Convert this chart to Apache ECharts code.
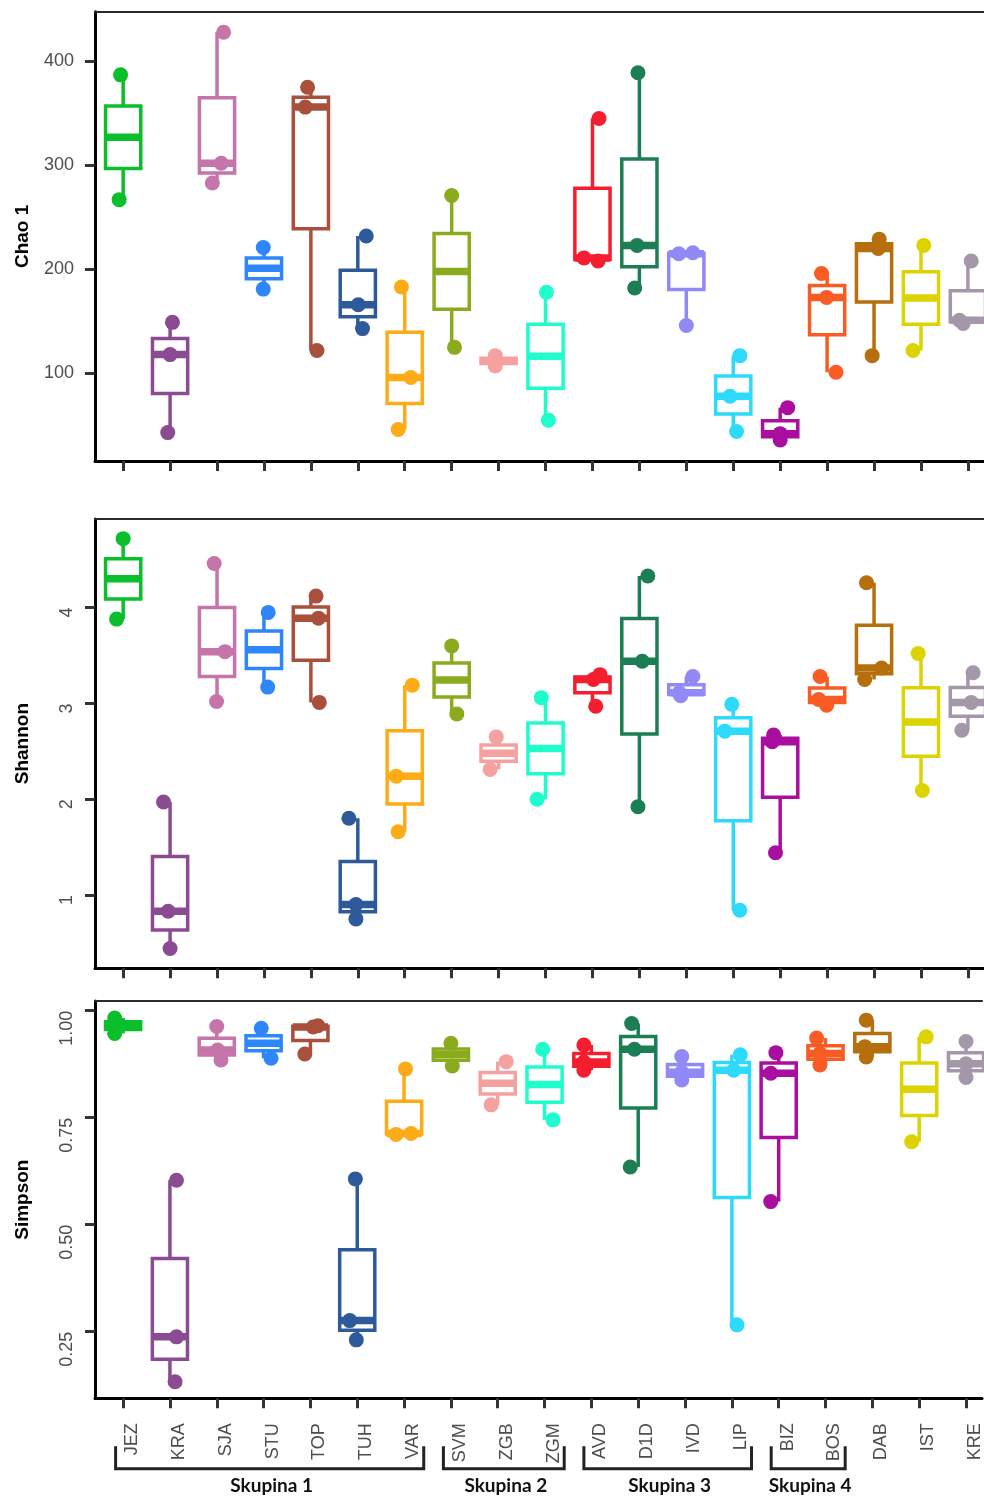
<!DOCTYPE html>
<html>
<head>
<meta charset="utf-8">
<script src="https://cdn.jsdelivr.net/npm/echarts@6/dist/echarts.min.js"></script>
<style>
html,body{margin:0;padding:0;background:#ffffff;}
#chart{width:984px;height:1498px;}
</style>
</head>
<body>
<div id="chart"></div>
<script>
// ---------------- data ----------------
const categories = ['JEZ','KRA','SJA','STU','TOP','TUH','VAR','SVM','ZGB','ZGM','AVD','D1D','IVD','LIP','BIZ','BOS','DAB','IST','KRE'];
const siteColors = ['#0BBE2B','#8A4B92','#C575A9','#2D86FA','#A8503B','#2E5A9C','#FDAB16','#8AAB1D','#F5A19F','#1EFDCB',
                    '#F41E2E','#1C7E55','#9189F6','#2EDAFC','#AA0E9E','#F95B25','#B56F0C','#DCD300','#A397A9'];

// replicate values per site
const chaoSamples = [
  [387,267],[149,118,43],[428,302,283],[221,181],[375,356,122],[232,166,143],[183,96,46],
  [271,125],[117,107],[178,55],
  [345,211,208],[389,223,182],[216,215,146],[117,78,44],
  [67,42,36],[196,173,101],
  [229,220,117],[223,122],[208,151,148]
];
const chaoJitter = [
  [-0.055,-0.085],[0.05,0,-0.05],[0.14,0.09,-0.1],[-0.015,-0.015],[-0.07,-0.12,0.13],[0.18,0.01,0.1],[-0.07,0.13,-0.14],
  [0,0.06],[-0.07,-0.07],[0.02,0.06],
  [0.14,-0.18,0.12],[-0.03,-0.05,-0.1],[0.14,-0.16,0],[0.14,-0.07,0.07],
  [0.16,0,0],[-0.12,-0.01,0.19],
  [0.11,0.09,-0.04],[0.06,-0.17],[0.07,-0.18,-0.1]
];
const shannonSamples = [
  [4.72,3.88],[1.97,0.83,0.44],[4.46,3.54,3.02],[3.95,3.17],[4.12,3.89,3.01],[1.80,0.90,0.75],[3.19,2.24,1.66],
  [3.60,2.89],[2.65,2.31],[3.06,2.00],
  [3.30,3.25,2.97],[4.33,3.44,1.92],[3.28,3.11,3.08],[2.99,2.71,0.84],
  [2.67,2.60,1.44],[3.28,3.04,2.98],
  [4.26,3.37,3.25],[3.52,2.09],[3.32,3.01,2.72]
];
const shannonJitter = [
  [0,-0.14],[-0.14,-0.04,0],[-0.06,0.17,-0.01],[0.09,0.08],[0.11,0.16,0.18],[-0.19,-0.04,-0.04],[0.16,-0.18,-0.14],
  [0,0.11],[-0.05,-0.18],[-0.09,-0.18],
  [0.16,0.02,0.07],[0.18,0.06,-0.03],[0.14,-0.15,-0.12],[-0.03,-0.18,0.14],
  [-0.14,-0.17,-0.1],[-0.15,-0.18,-0.01],
  [-0.16,0.16,-0.2],[-0.06,0.03],[0.11,0.07,-0.13]
];
const simpsonSamples = [
  [0.983,0.947],[0.604,0.238,0.133],[0.963,0.908,0.885],[0.959,0.889],[0.965,0.962,0.899],[0.607,0.276,0.231],[0.864,0.713,0.711],
  [0.924,0.871],[0.881,0.780],[0.910,0.745],
  [0.920,0.880,0.861],[0.970,0.910,0.635],[0.893,0.856,0.838],[0.897,0.861,0.266],
  [0.902,0.854,0.554],[0.936,0.900,0.873],
  [0.978,0.916,0.892],[0.939,0.694],[0.928,0.876,0.844]
];
const simpsonJitter = [
  [-0.18,-0.18],[0.14,0.14,0.11],[0,0.02,0.09],[-0.05,0.16],[0.16,0.06,-0.12],[-0.04,-0.16,-0.02],[0.03,0.15,-0.17],
  [0,0.03],[0.18,-0.14],[-0.04,0.18],
  [-0.16,-0.16,-0.16],[-0.14,-0.08,-0.17],[-0.07,-0.07,-0.07],[0.18,0.04,0.11],
  [-0.06,-0.17,-0.17],[-0.19,-0.12,-0.12],
  [-0.13,-0.16,-0.13],[0.15,-0.16],[0,0,0]
];

const chaoTicks = [100,200,300,400];
const shannonTicks = [1,2,3,4];
const simpsonTicks = [0.25,0.50,0.75,1.00];

const groupNames = ['Skupina 1','Skupina 2','Skupina 3','Skupina 4'];
const groupFirst = [0,7,10,14];
const groupLast  = [6,9,13,15];

// ---------------- helpers ----------------
function boxStats(samples){
  const s = samples.slice().sort((a,b)=>a-b);
  const q = p => { const h=(s.length-1)*p, lo=Math.floor(h), hi=Math.ceil(h); return s[lo]+(h-lo)*(s[hi]-s[lo]); };
  const q1=q(0.25), med=q(0.5), q3=q(0.75), iqr=q3-q1;
  const lo = Math.min(...s.filter(v=>v>=q1-1.5*iqr));
  const hi = Math.max(...s.filter(v=>v<=q3+1.5*iqr));
  return [lo,q1,med,q3,hi];
}

const LW = 3.5, MLW = 7.5, BOXW = 0.75, PT = 15;
const FONT = 'Liberation Sans, Arial, sans-serif';
const X_MIN = -0.6, X_MAX = 18.343;   // plot continues past the right edge of the picture

function renderBox(params, api){
  const i = api.value(0);
  const c = siteColors[i];
  const pMin = api.coord([i, api.value(1)]);
  const pQ1 = api.coord([i, api.value(2)]);
  const pMed = api.coord([i, api.value(3)]);
  const pQ3 = api.coord([i, api.value(4)]);
  const pMax = api.coord([i, api.value(5)]);
  const half = api.size([BOXW, 0])[0] / 2;
  const x = pMed[0];
  return {
    type:'group',
    children:[
      {type:'line', shape:{x1:x,y1:pQ3[1],x2:x,y2:pMax[1]}, style:{stroke:c,lineWidth:LW}},
      {type:'line', shape:{x1:x,y1:pQ1[1],x2:x,y2:pMin[1]}, style:{stroke:c,lineWidth:LW}},
      {type:'rect', shape:{x:x-half,y:pQ3[1],width:2*half,height:pQ1[1]-pQ3[1]}, style:{fill:'#ffffff',stroke:c,lineWidth:LW,lineJoin:'miter'}},
      {type:'line', shape:{x1:x-half,y1:pMed[1],x2:x+half,y2:pMed[1]}, style:{stroke:c,lineWidth:MLW,lineCap:'butt'}}
    ]
  };
}

const panels = [
  {samples:chaoSamples, jitter:chaoJitter, ticks:chaoTicks, min:15.7, max:447.7, top:11.7, height:449.3, name:'Chao 1', rotate:0, fmt:v=>String(v)},
  {samples:shannonSamples, jitter:shannonJitter, ticks:shannonTicks, min:0.234, max:4.925, top:519, height:449.3, name:'Shannon', rotate:90, fmt:v=>String(v)},
  {samples:simpsonSamples, jitter:simpsonJitter, ticks:simpsonTicks, min:0.0944, max:1.0227, top:1001, height:397.3, name:'Simpson', rotate:90, fmt:v=>v.toFixed(2)}
];

const catIdx = categories.map((c,i)=>i);
const grids=[], xAxes=[], yAxes=[], series=[];
panels.forEach((p, k)=>{
  const last = k === panels.length-1;
  grids.push({left:95, right:0, top:p.top, height:p.height, show:false});
  xAxes.push({
    type:'value', gridIndex:k, min:X_MIN, max:X_MAX, position:'bottom',
    axisLine:{show:true,onZero:false,lineStyle:{color:'#000',width:3}},
    axisTick:{show:true,customValues:catIdx,length:10,lineStyle:{color:'#333',width:3}},
    axisLabel:{show:last,customValues:catIdx,rotate:90,margin:25,fontSize:18,color:'#4d4d4d',fontFamily:FONT,
               verticalAlign:'top', formatter:v=>categories[Math.round(v)] || ''},
    splitLine:{show:false}
  });
  yAxes.push({
    type:'value', gridIndex:k, min:p.min, max:p.max,
    name:p.name, nameLocation:'middle', nameGap:63, nameRotate:90,
    nameTextStyle:{fontSize:19,fontWeight:'bold',color:'#000',fontFamily:FONT},
    axisLine:{show:true,onZero:false,lineStyle:{color:'#000',width:3}},
    axisTick:{show:true,customValues:p.ticks,length:10,lineStyle:{color:'#333',width:3}},
    axisLabel:p.rotate ? {customValues:p.ticks,rotate:90,align:'right',margin:19,fontSize:18,color:'#4d4d4d',fontFamily:FONT,formatter:p.fmt}
                       : {customValues:p.ticks,margin:21,fontSize:18,color:'#4d4d4d',fontFamily:FONT,formatter:p.fmt},
    splitLine:{show:false}
  });
  series.push({
    type:'custom', xAxisIndex:k, yAxisIndex:k, renderItem:renderBox, z:2, silent:true,
    encode:{x:0,y:[1,2,3,4,5]},
    data:p.samples.map((s,i)=>[i].concat(boxStats(s)))
  });
  const pts=[];
  p.samples.forEach((s,i)=>s.forEach((v,j)=>pts.push([i+p.jitter[i][j], v, i])));
  series.push({
    type:'scatter', xAxisIndex:k, yAxisIndex:k, z:3, silent:true, symbol:'circle', symbolSize:PT,
    itemStyle:{opacity:1, color:pr=>siteColors[pr.value[2]]},
    data:pts
  });
});
// top border line of each panel
panels.forEach((p,k)=>{
  xAxes.push({
    type:'value', gridIndex:k, min:X_MIN, max:X_MAX, position:'top',
    axisLine:{show:true,onZero:false,lineStyle:{color:'#2a2a2a',width:2}},
    axisTick:{show:false}, axisLabel:{show:false}, splitLine:{show:false}
  });
});

// group brackets under the bottom panel
const yBottom = panels[2].min;
series.push({
  type:'custom', xAxisIndex:2, yAxisIndex:2, z:5, silent:true, clip:false,
  encode:{x:[0,1]},
  data:groupNames.map((n,g)=>[groupFirst[g], groupLast[g], g]),
  renderItem:function(params, api){
    const a = api.coord([api.value(0)-0.16, yBottom]);
    const b = api.coord([api.value(1)+0.42, yBottom]);
    const y0 = a[1];
    const g = api.value(2);
    return {type:'group', children:[
      {type:'polyline', shape:{points:[[a[0],y0+48],[a[0],y0+70.5],[b[0],y0+70.5],[b[0],y0+48]]},
       style:{stroke:'#222',lineWidth:3,fill:null,lineJoin:'miter'}},
      {type:'text', style:{text:groupNames[g], x:(a[0]+b[0])/2+2, y:y0+88, align:'center', verticalAlign:'middle',
        font:'bold 19px Lato, "Open Sans", sans-serif', fill:'#111'}}
    ]};
  }
});

const chart = echarts.init(document.getElementById('chart'), null, {renderer:'canvas'});
chart.setOption({
  animation:false,
  backgroundColor:'#ffffff',
  grid:grids, xAxis:xAxes, yAxis:yAxes, series:series
});
</script>
</body>
</html>
